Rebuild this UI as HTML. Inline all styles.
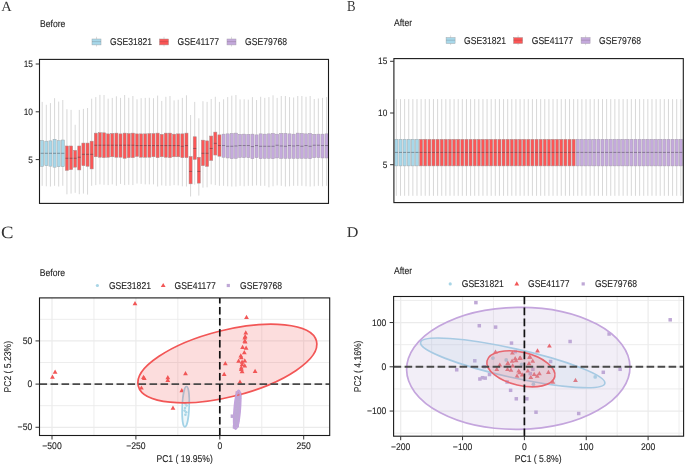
<!DOCTYPE html>
<html><head><meta charset="utf-8"><style>html,body{margin:0;padding:0;background:#fff;width:685px;height:465px;overflow:hidden}svg{display:block}text{text-rendering:geometricPrecision;stroke:#1E1E1E;stroke-width:0.12px}text.s{stroke:none}</style></head>
<body>
<svg width="685" height="465" viewBox="0 0 685 465" font-family="Liberation Sans, sans-serif">
<rect width="685" height="465" fill="#fff"/>
<g style="will-change:opacity;opacity:0.999">
<line x1="42.20" y1="101.90" x2="42.20" y2="185.80" stroke="#D4D4D4" stroke-width="0.9"/>
<line x1="46.32" y1="104.80" x2="46.32" y2="186.30" stroke="#D4D4D4" stroke-width="0.9"/>
<line x1="50.44" y1="103.10" x2="50.44" y2="186.50" stroke="#D4D4D4" stroke-width="0.9"/>
<line x1="54.57" y1="98.20" x2="54.57" y2="185.80" stroke="#D4D4D4" stroke-width="0.9"/>
<line x1="58.69" y1="101.60" x2="58.69" y2="186.50" stroke="#D4D4D4" stroke-width="0.9"/>
<line x1="62.81" y1="100.00" x2="62.81" y2="185.80" stroke="#D4D4D4" stroke-width="0.9"/>
<line x1="66.93" y1="109.20" x2="66.93" y2="194.30" stroke="#D4D4D4" stroke-width="0.9"/>
<line x1="71.05" y1="109.90" x2="71.05" y2="193.60" stroke="#D4D4D4" stroke-width="0.9"/>
<line x1="75.18" y1="124.80" x2="75.18" y2="192.80" stroke="#D4D4D4" stroke-width="0.9"/>
<line x1="79.30" y1="109.90" x2="79.30" y2="194.20" stroke="#D4D4D4" stroke-width="0.9"/>
<line x1="83.42" y1="108.90" x2="83.42" y2="193.60" stroke="#D4D4D4" stroke-width="0.9"/>
<line x1="87.54" y1="108.00" x2="87.54" y2="194.60" stroke="#D4D4D4" stroke-width="0.9"/>
<line x1="91.66" y1="98.70" x2="91.66" y2="185.80" stroke="#D4D4D4" stroke-width="0.9"/>
<line x1="95.79" y1="97.10" x2="95.79" y2="185.10" stroke="#D4D4D4" stroke-width="0.9"/>
<line x1="99.91" y1="94.90" x2="99.91" y2="184.40" stroke="#D4D4D4" stroke-width="0.9"/>
<line x1="104.03" y1="95.00" x2="104.03" y2="184.80" stroke="#D4D4D4" stroke-width="0.9"/>
<line x1="108.15" y1="98.70" x2="108.15" y2="185.10" stroke="#D4D4D4" stroke-width="0.9"/>
<line x1="112.27" y1="97.90" x2="112.27" y2="184.40" stroke="#D4D4D4" stroke-width="0.9"/>
<line x1="116.40" y1="96.30" x2="116.40" y2="185.80" stroke="#D4D4D4" stroke-width="0.9"/>
<line x1="120.52" y1="97.90" x2="120.52" y2="183.90" stroke="#D4D4D4" stroke-width="0.9"/>
<line x1="124.64" y1="95.00" x2="124.64" y2="185.10" stroke="#D4D4D4" stroke-width="0.9"/>
<line x1="128.76" y1="97.80" x2="128.76" y2="184.80" stroke="#D4D4D4" stroke-width="0.9"/>
<line x1="132.88" y1="96.00" x2="132.88" y2="185.10" stroke="#D4D4D4" stroke-width="0.9"/>
<line x1="137.01" y1="99.30" x2="137.01" y2="183.60" stroke="#D4D4D4" stroke-width="0.9"/>
<line x1="141.13" y1="98.20" x2="141.13" y2="183.90" stroke="#D4D4D4" stroke-width="0.9"/>
<line x1="145.25" y1="97.90" x2="145.25" y2="184.40" stroke="#D4D4D4" stroke-width="0.9"/>
<line x1="149.37" y1="97.80" x2="149.37" y2="184.40" stroke="#D4D4D4" stroke-width="0.9"/>
<line x1="153.49" y1="98.20" x2="153.49" y2="184.40" stroke="#D4D4D4" stroke-width="0.9"/>
<line x1="157.62" y1="95.60" x2="157.62" y2="186.50" stroke="#D4D4D4" stroke-width="0.9"/>
<line x1="161.74" y1="100.90" x2="161.74" y2="185.40" stroke="#D4D4D4" stroke-width="0.9"/>
<line x1="165.86" y1="96.80" x2="165.86" y2="185.80" stroke="#D4D4D4" stroke-width="0.9"/>
<line x1="169.98" y1="96.00" x2="169.98" y2="185.80" stroke="#D4D4D4" stroke-width="0.9"/>
<line x1="174.10" y1="100.40" x2="174.10" y2="185.10" stroke="#D4D4D4" stroke-width="0.9"/>
<line x1="178.23" y1="99.70" x2="178.23" y2="185.40" stroke="#D4D4D4" stroke-width="0.9"/>
<line x1="182.35" y1="97.90" x2="182.35" y2="186.30" stroke="#D4D4D4" stroke-width="0.9"/>
<line x1="186.47" y1="95.30" x2="186.47" y2="186.50" stroke="#D4D4D4" stroke-width="0.9"/>
<line x1="190.59" y1="115.00" x2="190.59" y2="196.50" stroke="#D4D4D4" stroke-width="0.9"/>
<line x1="194.71" y1="101.90" x2="194.71" y2="184.60" stroke="#D4D4D4" stroke-width="0.9"/>
<line x1="198.84" y1="118.30" x2="198.84" y2="195.60" stroke="#D4D4D4" stroke-width="0.9"/>
<line x1="202.96" y1="101.20" x2="202.96" y2="187.70" stroke="#D4D4D4" stroke-width="0.9"/>
<line x1="207.08" y1="101.90" x2="207.08" y2="187.30" stroke="#D4D4D4" stroke-width="0.9"/>
<line x1="211.20" y1="99.00" x2="211.20" y2="184.40" stroke="#D4D4D4" stroke-width="0.9"/>
<line x1="215.32" y1="96.80" x2="215.32" y2="185.10" stroke="#D4D4D4" stroke-width="0.9"/>
<line x1="219.45" y1="101.90" x2="219.45" y2="185.80" stroke="#D4D4D4" stroke-width="0.9"/>
<line x1="223.57" y1="99.30" x2="223.57" y2="185.80" stroke="#D4D4D4" stroke-width="0.9"/>
<line x1="227.69" y1="97.10" x2="227.69" y2="186.30" stroke="#D4D4D4" stroke-width="0.9"/>
<line x1="231.81" y1="95.70" x2="231.81" y2="186.50" stroke="#D4D4D4" stroke-width="0.9"/>
<line x1="235.93" y1="95.00" x2="235.93" y2="186.55" stroke="#D4D4D4" stroke-width="0.9"/>
<line x1="240.06" y1="99.40" x2="240.06" y2="185.82" stroke="#D4D4D4" stroke-width="0.9"/>
<line x1="244.18" y1="99.30" x2="244.18" y2="186.26" stroke="#D4D4D4" stroke-width="0.9"/>
<line x1="248.30" y1="99.70" x2="248.30" y2="185.82" stroke="#D4D4D4" stroke-width="0.9"/>
<line x1="252.42" y1="97.10" x2="252.42" y2="185.82" stroke="#D4D4D4" stroke-width="0.9"/>
<line x1="256.54" y1="100.00" x2="256.54" y2="185.38" stroke="#D4D4D4" stroke-width="0.9"/>
<line x1="260.67" y1="96.80" x2="260.67" y2="185.82" stroke="#D4D4D4" stroke-width="0.9"/>
<line x1="264.79" y1="97.90" x2="264.79" y2="185.82" stroke="#D4D4D4" stroke-width="0.9"/>
<line x1="268.91" y1="97.10" x2="268.91" y2="187.28" stroke="#D4D4D4" stroke-width="0.9"/>
<line x1="273.03" y1="95.30" x2="273.03" y2="186.26" stroke="#D4D4D4" stroke-width="0.9"/>
<line x1="277.15" y1="97.90" x2="277.15" y2="185.38" stroke="#D4D4D4" stroke-width="0.9"/>
<line x1="281.28" y1="96.00" x2="281.28" y2="185.82" stroke="#D4D4D4" stroke-width="0.9"/>
<line x1="285.40" y1="96.00" x2="285.40" y2="186.55" stroke="#D4D4D4" stroke-width="0.9"/>
<line x1="289.52" y1="97.10" x2="289.52" y2="186.26" stroke="#D4D4D4" stroke-width="0.9"/>
<line x1="293.64" y1="97.50" x2="293.64" y2="185.82" stroke="#D4D4D4" stroke-width="0.9"/>
<line x1="297.76" y1="96.00" x2="297.76" y2="185.82" stroke="#D4D4D4" stroke-width="0.9"/>
<line x1="301.89" y1="96.00" x2="301.89" y2="185.82" stroke="#D4D4D4" stroke-width="0.9"/>
<line x1="306.01" y1="96.80" x2="306.01" y2="186.26" stroke="#D4D4D4" stroke-width="0.9"/>
<line x1="310.13" y1="96.00" x2="310.13" y2="186.55" stroke="#D4D4D4" stroke-width="0.9"/>
<line x1="314.25" y1="99.00" x2="314.25" y2="186.26" stroke="#D4D4D4" stroke-width="0.9"/>
<line x1="318.37" y1="98.50" x2="318.37" y2="185.82" stroke="#D4D4D4" stroke-width="0.9"/>
<line x1="322.50" y1="97.90" x2="322.50" y2="186.26" stroke="#D4D4D4" stroke-width="0.9"/>
<line x1="326.62" y1="97.10" x2="326.62" y2="185.82" stroke="#D4D4D4" stroke-width="0.9"/>
<rect x="40.65" y="140.43" width="3.09" height="26.02" fill="#A7D8EA" stroke="#A0A8AC" stroke-width="0.5"/>
<line x1="40.65" y1="153.29" x2="43.75" y2="153.29" stroke="#2E2A33" stroke-width="0.9" stroke-opacity="0.45"/>
<rect x="44.78" y="141.16" width="3.09" height="24.56" fill="#A7D8EA" stroke="#A0A8AC" stroke-width="0.5"/>
<line x1="44.78" y1="153.29" x2="47.87" y2="153.29" stroke="#2E2A33" stroke-width="0.9" stroke-opacity="0.45"/>
<rect x="48.90" y="140.87" width="3.09" height="25.29" fill="#A7D8EA" stroke="#A0A8AC" stroke-width="0.5"/>
<line x1="48.90" y1="153.29" x2="51.99" y2="153.29" stroke="#2E2A33" stroke-width="0.9" stroke-opacity="0.45"/>
<rect x="53.02" y="139.26" width="3.09" height="27.92" fill="#A7D8EA" stroke="#A0A8AC" stroke-width="0.5"/>
<line x1="53.02" y1="153.29" x2="56.11" y2="153.29" stroke="#2E2A33" stroke-width="0.9" stroke-opacity="0.45"/>
<rect x="57.14" y="140.72" width="3.09" height="26.02" fill="#A7D8EA" stroke="#A0A8AC" stroke-width="0.5"/>
<line x1="57.14" y1="153.29" x2="60.23" y2="153.29" stroke="#2E2A33" stroke-width="0.9" stroke-opacity="0.45"/>
<rect x="61.26" y="139.99" width="3.09" height="26.75" fill="#A7D8EA" stroke="#A0A8AC" stroke-width="0.5"/>
<line x1="61.26" y1="153.29" x2="64.36" y2="153.29" stroke="#2E2A33" stroke-width="0.9" stroke-opacity="0.45"/>
<rect x="65.39" y="145.98" width="3.09" height="24.42" fill="#FB5656" stroke="#A89090" stroke-width="0.5"/>
<line x1="65.39" y1="158.26" x2="68.48" y2="158.26" stroke="#2E2A33" stroke-width="0.9" stroke-opacity="0.45"/>
<rect x="69.51" y="145.98" width="3.09" height="23.68" fill="#FB5656" stroke="#A89090" stroke-width="0.5"/>
<line x1="69.51" y1="158.26" x2="72.60" y2="158.26" stroke="#2E2A33" stroke-width="0.9" stroke-opacity="0.45"/>
<rect x="73.63" y="150.37" width="3.09" height="16.81" fill="#FB5656" stroke="#A89090" stroke-width="0.5"/>
<line x1="73.63" y1="158.26" x2="76.72" y2="158.26" stroke="#2E2A33" stroke-width="0.9" stroke-opacity="0.45"/>
<rect x="77.75" y="145.98" width="3.09" height="23.98" fill="#FB5656" stroke="#A89090" stroke-width="0.5"/>
<line x1="77.75" y1="157.24" x2="80.84" y2="157.24" stroke="#2E2A33" stroke-width="0.9" stroke-opacity="0.45"/>
<rect x="81.87" y="143.06" width="3.09" height="22.66" fill="#FB5656" stroke="#A89090" stroke-width="0.5"/>
<line x1="81.87" y1="154.32" x2="84.97" y2="154.32" stroke="#2E2A33" stroke-width="0.9" stroke-opacity="0.45"/>
<rect x="86.00" y="143.06" width="3.09" height="23.25" fill="#FB5656" stroke="#A89090" stroke-width="0.5"/>
<line x1="86.00" y1="154.32" x2="89.09" y2="154.32" stroke="#2E2A33" stroke-width="0.9" stroke-opacity="0.45"/>
<rect x="90.12" y="141.16" width="3.09" height="27.78" fill="#FB5656" stroke="#A89090" stroke-width="0.5"/>
<line x1="90.12" y1="154.32" x2="93.21" y2="154.32" stroke="#2E2A33" stroke-width="0.9" stroke-opacity="0.45"/>
<rect x="94.24" y="133.12" width="3.09" height="23.68" fill="#FB5656" stroke="#A89090" stroke-width="0.5"/>
<line x1="94.24" y1="145.25" x2="97.33" y2="145.25" stroke="#2E2A33" stroke-width="0.9" stroke-opacity="0.45"/>
<rect x="98.36" y="132.68" width="3.09" height="24.56" fill="#FB5656" stroke="#A89090" stroke-width="0.5"/>
<line x1="98.36" y1="145.25" x2="101.45" y2="145.25" stroke="#2E2A33" stroke-width="0.9" stroke-opacity="0.45"/>
<rect x="102.48" y="132.82" width="3.09" height="24.85" fill="#FB5656" stroke="#A89090" stroke-width="0.5"/>
<line x1="102.48" y1="145.25" x2="105.58" y2="145.25" stroke="#2E2A33" stroke-width="0.9" stroke-opacity="0.45"/>
<rect x="106.61" y="133.85" width="3.09" height="23.39" fill="#FB5656" stroke="#A89090" stroke-width="0.5"/>
<line x1="106.61" y1="145.25" x2="109.70" y2="145.25" stroke="#2E2A33" stroke-width="0.9" stroke-opacity="0.45"/>
<rect x="110.73" y="133.41" width="3.09" height="23.39" fill="#FB5656" stroke="#A89090" stroke-width="0.5"/>
<line x1="110.73" y1="145.25" x2="113.82" y2="145.25" stroke="#2E2A33" stroke-width="0.9" stroke-opacity="0.45"/>
<rect x="114.85" y="133.12" width="3.09" height="24.12" fill="#FB5656" stroke="#A89090" stroke-width="0.5"/>
<line x1="114.85" y1="145.25" x2="117.94" y2="145.25" stroke="#2E2A33" stroke-width="0.9" stroke-opacity="0.45"/>
<rect x="118.97" y="133.85" width="3.09" height="23.39" fill="#FB5656" stroke="#A89090" stroke-width="0.5"/>
<line x1="118.97" y1="145.25" x2="122.06" y2="145.25" stroke="#2E2A33" stroke-width="0.9" stroke-opacity="0.45"/>
<rect x="123.09" y="133.12" width="3.09" height="25.15" fill="#FB5656" stroke="#A89090" stroke-width="0.5"/>
<line x1="123.09" y1="145.25" x2="126.19" y2="145.25" stroke="#2E2A33" stroke-width="0.9" stroke-opacity="0.45"/>
<rect x="127.22" y="133.56" width="3.09" height="24.12" fill="#FB5656" stroke="#A89090" stroke-width="0.5"/>
<line x1="127.22" y1="145.25" x2="130.31" y2="145.25" stroke="#2E2A33" stroke-width="0.9" stroke-opacity="0.45"/>
<rect x="131.34" y="133.12" width="3.09" height="24.56" fill="#FB5656" stroke="#A89090" stroke-width="0.5"/>
<line x1="131.34" y1="145.25" x2="134.43" y2="145.25" stroke="#2E2A33" stroke-width="0.9" stroke-opacity="0.45"/>
<rect x="135.46" y="133.85" width="3.09" height="22.66" fill="#FB5656" stroke="#A89090" stroke-width="0.5"/>
<line x1="135.46" y1="145.54" x2="138.55" y2="145.54" stroke="#2E2A33" stroke-width="0.9" stroke-opacity="0.45"/>
<rect x="139.58" y="133.85" width="3.09" height="23.39" fill="#FB5656" stroke="#A89090" stroke-width="0.5"/>
<line x1="139.58" y1="145.54" x2="142.67" y2="145.54" stroke="#2E2A33" stroke-width="0.9" stroke-opacity="0.45"/>
<rect x="143.70" y="133.85" width="3.09" height="23.39" fill="#FB5656" stroke="#A89090" stroke-width="0.5"/>
<line x1="143.70" y1="145.54" x2="146.80" y2="145.54" stroke="#2E2A33" stroke-width="0.9" stroke-opacity="0.45"/>
<rect x="147.83" y="133.56" width="3.09" height="23.68" fill="#FB5656" stroke="#A89090" stroke-width="0.5"/>
<line x1="147.83" y1="145.54" x2="150.92" y2="145.54" stroke="#2E2A33" stroke-width="0.9" stroke-opacity="0.45"/>
<rect x="151.95" y="133.56" width="3.09" height="23.25" fill="#FB5656" stroke="#A89090" stroke-width="0.5"/>
<line x1="151.95" y1="145.54" x2="155.04" y2="145.54" stroke="#2E2A33" stroke-width="0.9" stroke-opacity="0.45"/>
<rect x="156.07" y="133.12" width="3.09" height="24.56" fill="#FB5656" stroke="#A89090" stroke-width="0.5"/>
<line x1="156.07" y1="145.54" x2="159.16" y2="145.54" stroke="#2E2A33" stroke-width="0.9" stroke-opacity="0.45"/>
<rect x="160.19" y="134.29" width="3.09" height="22.51" fill="#FB5656" stroke="#A89090" stroke-width="0.5"/>
<line x1="160.19" y1="145.54" x2="163.28" y2="145.54" stroke="#2E2A33" stroke-width="0.9" stroke-opacity="0.45"/>
<rect x="164.31" y="133.12" width="3.09" height="24.12" fill="#FB5656" stroke="#A89090" stroke-width="0.5"/>
<line x1="164.31" y1="145.54" x2="167.41" y2="145.54" stroke="#2E2A33" stroke-width="0.9" stroke-opacity="0.45"/>
<rect x="168.44" y="133.12" width="3.09" height="24.56" fill="#FB5656" stroke="#A89090" stroke-width="0.5"/>
<line x1="168.44" y1="145.54" x2="171.53" y2="145.54" stroke="#2E2A33" stroke-width="0.9" stroke-opacity="0.45"/>
<rect x="172.56" y="134.14" width="3.09" height="22.66" fill="#FB5656" stroke="#A89090" stroke-width="0.5"/>
<line x1="172.56" y1="145.54" x2="175.65" y2="145.54" stroke="#2E2A33" stroke-width="0.9" stroke-opacity="0.45"/>
<rect x="176.68" y="133.85" width="3.09" height="22.95" fill="#FB5656" stroke="#A89090" stroke-width="0.5"/>
<line x1="176.68" y1="145.54" x2="179.77" y2="145.54" stroke="#2E2A33" stroke-width="0.9" stroke-opacity="0.45"/>
<rect x="180.80" y="133.85" width="3.09" height="23.83" fill="#FB5656" stroke="#A89090" stroke-width="0.5"/>
<line x1="180.80" y1="146.27" x2="183.89" y2="146.27" stroke="#2E2A33" stroke-width="0.9" stroke-opacity="0.45"/>
<rect x="184.92" y="133.12" width="3.09" height="24.56" fill="#FB5656" stroke="#A89090" stroke-width="0.5"/>
<line x1="184.92" y1="145.54" x2="188.02" y2="145.54" stroke="#2E2A33" stroke-width="0.9" stroke-opacity="0.45"/>
<rect x="189.05" y="156.51" width="3.09" height="27.34" fill="#FB5656" stroke="#A89090" stroke-width="0.5"/>
<line x1="189.05" y1="171.42" x2="192.14" y2="171.42" stroke="#2E2A33" stroke-width="0.9" stroke-opacity="0.45"/>
<rect x="193.17" y="136.77" width="3.09" height="22.66" fill="#FB5656" stroke="#A89090" stroke-width="0.5"/>
<line x1="193.17" y1="148.47" x2="196.26" y2="148.47" stroke="#2E2A33" stroke-width="0.9" stroke-opacity="0.45"/>
<rect x="197.29" y="157.24" width="3.09" height="25.88" fill="#FB5656" stroke="#A89090" stroke-width="0.5"/>
<line x1="197.29" y1="171.42" x2="200.38" y2="171.42" stroke="#2E2A33" stroke-width="0.9" stroke-opacity="0.45"/>
<rect x="201.41" y="140.13" width="3.09" height="25.58" fill="#FB5656" stroke="#A89090" stroke-width="0.5"/>
<line x1="201.41" y1="153.29" x2="204.50" y2="153.29" stroke="#2E2A33" stroke-width="0.9" stroke-opacity="0.45"/>
<rect x="205.53" y="140.87" width="3.09" height="25.58" fill="#FB5656" stroke="#A89090" stroke-width="0.5"/>
<line x1="205.53" y1="153.29" x2="208.63" y2="153.29" stroke="#2E2A33" stroke-width="0.9" stroke-opacity="0.45"/>
<rect x="209.66" y="136.04" width="3.09" height="24.42" fill="#FB5656" stroke="#A89090" stroke-width="0.5"/>
<line x1="209.66" y1="148.47" x2="212.75" y2="148.47" stroke="#2E2A33" stroke-width="0.9" stroke-opacity="0.45"/>
<rect x="213.78" y="132.09" width="3.09" height="22.95" fill="#FB5656" stroke="#A89090" stroke-width="0.5"/>
<line x1="213.78" y1="143.35" x2="216.87" y2="143.35" stroke="#2E2A33" stroke-width="0.9" stroke-opacity="0.45"/>
<rect x="217.90" y="134.87" width="3.09" height="21.35" fill="#FB5656" stroke="#A89090" stroke-width="0.5"/>
<line x1="217.90" y1="145.54" x2="220.99" y2="145.54" stroke="#2E2A33" stroke-width="0.9" stroke-opacity="0.45"/>
<rect x="222.02" y="134.14" width="3.09" height="23.10" fill="#C4A9DC" stroke="#A89EAF" stroke-width="0.5"/>
<line x1="222.02" y1="145.54" x2="225.11" y2="145.54" stroke="#2E2A33" stroke-width="0.9" stroke-opacity="0.45"/>
<rect x="226.14" y="133.85" width="3.09" height="24.12" fill="#C4A9DC" stroke="#A89EAF" stroke-width="0.5"/>
<line x1="226.14" y1="146.27" x2="229.24" y2="146.27" stroke="#2E2A33" stroke-width="0.9" stroke-opacity="0.45"/>
<rect x="230.27" y="133.41" width="3.09" height="25.29" fill="#C4A9DC" stroke="#A89EAF" stroke-width="0.5"/>
<line x1="230.27" y1="146.27" x2="233.36" y2="146.27" stroke="#2E2A33" stroke-width="0.9" stroke-opacity="0.45"/>
<rect x="234.39" y="133.12" width="3.09" height="25.29" fill="#C4A9DC" stroke="#A89EAF" stroke-width="0.5"/>
<line x1="234.39" y1="145.98" x2="237.48" y2="145.98" stroke="#2E2A33" stroke-width="0.9" stroke-opacity="0.45"/>
<rect x="238.51" y="134.29" width="3.09" height="23.25" fill="#C4A9DC" stroke="#A89EAF" stroke-width="0.5"/>
<line x1="238.51" y1="145.54" x2="241.60" y2="145.54" stroke="#2E2A33" stroke-width="0.9" stroke-opacity="0.45"/>
<rect x="242.63" y="134.14" width="3.09" height="23.54" fill="#C4A9DC" stroke="#A89EAF" stroke-width="0.5"/>
<line x1="242.63" y1="145.54" x2="245.72" y2="145.54" stroke="#2E2A33" stroke-width="0.9" stroke-opacity="0.45"/>
<rect x="246.75" y="134.29" width="3.09" height="23.39" fill="#C4A9DC" stroke="#A89EAF" stroke-width="0.5"/>
<line x1="246.75" y1="145.54" x2="249.85" y2="145.54" stroke="#2E2A33" stroke-width="0.9" stroke-opacity="0.45"/>
<rect x="250.88" y="134.14" width="3.09" height="24.56" fill="#C4A9DC" stroke="#A89EAF" stroke-width="0.5"/>
<line x1="250.88" y1="146.57" x2="253.97" y2="146.57" stroke="#2E2A33" stroke-width="0.9" stroke-opacity="0.45"/>
<rect x="255.00" y="134.87" width="3.09" height="22.81" fill="#C4A9DC" stroke="#A89EAF" stroke-width="0.5"/>
<line x1="255.00" y1="145.54" x2="258.09" y2="145.54" stroke="#2E2A33" stroke-width="0.9" stroke-opacity="0.45"/>
<rect x="259.12" y="133.85" width="3.09" height="24.85" fill="#C4A9DC" stroke="#A89EAF" stroke-width="0.5"/>
<line x1="259.12" y1="146.27" x2="262.21" y2="146.27" stroke="#2E2A33" stroke-width="0.9" stroke-opacity="0.45"/>
<rect x="263.24" y="134.14" width="3.09" height="24.27" fill="#C4A9DC" stroke="#A89EAF" stroke-width="0.5"/>
<line x1="263.24" y1="146.27" x2="266.33" y2="146.27" stroke="#2E2A33" stroke-width="0.9" stroke-opacity="0.45"/>
<rect x="267.36" y="133.85" width="3.09" height="24.56" fill="#C4A9DC" stroke="#A89EAF" stroke-width="0.5"/>
<line x1="267.36" y1="146.27" x2="270.46" y2="146.27" stroke="#2E2A33" stroke-width="0.9" stroke-opacity="0.45"/>
<rect x="271.49" y="133.41" width="3.09" height="25.29" fill="#C4A9DC" stroke="#A89EAF" stroke-width="0.5"/>
<line x1="271.49" y1="146.27" x2="274.58" y2="146.27" stroke="#2E2A33" stroke-width="0.9" stroke-opacity="0.45"/>
<rect x="275.61" y="134.14" width="3.09" height="23.83" fill="#C4A9DC" stroke="#A89EAF" stroke-width="0.5"/>
<line x1="275.61" y1="145.25" x2="278.70" y2="145.25" stroke="#2E2A33" stroke-width="0.9" stroke-opacity="0.45"/>
<rect x="279.73" y="133.41" width="3.09" height="25.00" fill="#C4A9DC" stroke="#A89EAF" stroke-width="0.5"/>
<line x1="279.73" y1="145.98" x2="282.82" y2="145.98" stroke="#2E2A33" stroke-width="0.9" stroke-opacity="0.45"/>
<rect x="283.85" y="133.41" width="3.09" height="25.00" fill="#C4A9DC" stroke="#A89EAF" stroke-width="0.5"/>
<line x1="283.85" y1="146.27" x2="286.94" y2="146.27" stroke="#2E2A33" stroke-width="0.9" stroke-opacity="0.45"/>
<rect x="287.97" y="133.85" width="3.09" height="24.56" fill="#C4A9DC" stroke="#A89EAF" stroke-width="0.5"/>
<line x1="287.97" y1="145.54" x2="291.07" y2="145.54" stroke="#2E2A33" stroke-width="0.9" stroke-opacity="0.45"/>
<rect x="292.10" y="134.14" width="3.09" height="24.27" fill="#C4A9DC" stroke="#A89EAF" stroke-width="0.5"/>
<line x1="292.10" y1="145.98" x2="295.19" y2="145.98" stroke="#2E2A33" stroke-width="0.9" stroke-opacity="0.45"/>
<rect x="296.22" y="133.12" width="3.09" height="25.29" fill="#C4A9DC" stroke="#A89EAF" stroke-width="0.5"/>
<line x1="296.22" y1="145.54" x2="299.31" y2="145.54" stroke="#2E2A33" stroke-width="0.9" stroke-opacity="0.45"/>
<rect x="300.34" y="133.41" width="3.09" height="25.00" fill="#C4A9DC" stroke="#A89EAF" stroke-width="0.5"/>
<line x1="300.34" y1="146.27" x2="303.43" y2="146.27" stroke="#2E2A33" stroke-width="0.9" stroke-opacity="0.45"/>
<rect x="304.46" y="133.85" width="3.09" height="24.56" fill="#C4A9DC" stroke="#A89EAF" stroke-width="0.5"/>
<line x1="304.46" y1="145.54" x2="307.55" y2="145.54" stroke="#2E2A33" stroke-width="0.9" stroke-opacity="0.45"/>
<rect x="308.58" y="133.41" width="3.09" height="25.29" fill="#C4A9DC" stroke="#A89EAF" stroke-width="0.5"/>
<line x1="308.58" y1="146.27" x2="311.68" y2="146.27" stroke="#2E2A33" stroke-width="0.9" stroke-opacity="0.45"/>
<rect x="312.71" y="134.29" width="3.09" height="23.39" fill="#C4A9DC" stroke="#A89EAF" stroke-width="0.5"/>
<line x1="312.71" y1="145.25" x2="315.80" y2="145.25" stroke="#2E2A33" stroke-width="0.9" stroke-opacity="0.45"/>
<rect x="316.83" y="134.14" width="3.09" height="23.54" fill="#C4A9DC" stroke="#A89EAF" stroke-width="0.5"/>
<line x1="316.83" y1="145.25" x2="319.92" y2="145.25" stroke="#2E2A33" stroke-width="0.9" stroke-opacity="0.45"/>
<rect x="320.95" y="134.14" width="3.09" height="23.83" fill="#C4A9DC" stroke="#A89EAF" stroke-width="0.5"/>
<line x1="320.95" y1="145.54" x2="324.04" y2="145.54" stroke="#2E2A33" stroke-width="0.9" stroke-opacity="0.45"/>
<rect x="325.07" y="133.85" width="3.09" height="24.12" fill="#C4A9DC" stroke="#A89EAF" stroke-width="0.5"/>
<line x1="325.07" y1="145.54" x2="328.16" y2="145.54" stroke="#2E2A33" stroke-width="0.9" stroke-opacity="0.45"/>
<rect x="39.50" y="59.40" width="289.00" height="144.00" fill="none" stroke="#1A1A1A" stroke-width="1.1"/>
<line x1="35.70" y1="64.00" x2="39.50" y2="64.00" stroke="#333" stroke-width="1.0"/>
<text transform="translate(32.90 66.95) scale(0.9 1)" font-size="9.22" text-anchor="end" fill="#1E1E1E">15</text>
<line x1="35.70" y1="111.80" x2="39.50" y2="111.80" stroke="#333" stroke-width="1.0"/>
<text transform="translate(32.90 114.75) scale(0.9 1)" font-size="9.22" text-anchor="end" fill="#1E1E1E">10</text>
<line x1="35.70" y1="159.60" x2="39.50" y2="159.60" stroke="#333" stroke-width="1.0"/>
<text transform="translate(32.90 162.55) scale(0.9 1)" font-size="9.22" text-anchor="end" fill="#1E1E1E">5</text>
<line x1="396.37" y1="99.10" x2="396.37" y2="195.80" stroke="#D4D4D4" stroke-width="0.9"/>
<line x1="400.50" y1="99.10" x2="400.50" y2="195.80" stroke="#D4D4D4" stroke-width="0.9"/>
<line x1="404.62" y1="99.10" x2="404.62" y2="195.80" stroke="#D4D4D4" stroke-width="0.9"/>
<line x1="408.74" y1="99.10" x2="408.74" y2="195.80" stroke="#D4D4D4" stroke-width="0.9"/>
<line x1="412.86" y1="99.10" x2="412.86" y2="195.80" stroke="#D4D4D4" stroke-width="0.9"/>
<line x1="416.99" y1="99.10" x2="416.99" y2="195.80" stroke="#D4D4D4" stroke-width="0.9"/>
<line x1="421.11" y1="99.10" x2="421.11" y2="195.80" stroke="#D4D4D4" stroke-width="0.9"/>
<line x1="425.23" y1="99.10" x2="425.23" y2="195.80" stroke="#D4D4D4" stroke-width="0.9"/>
<line x1="429.35" y1="99.10" x2="429.35" y2="195.80" stroke="#D4D4D4" stroke-width="0.9"/>
<line x1="433.48" y1="99.10" x2="433.48" y2="195.80" stroke="#D4D4D4" stroke-width="0.9"/>
<line x1="437.60" y1="99.10" x2="437.60" y2="195.80" stroke="#D4D4D4" stroke-width="0.9"/>
<line x1="441.72" y1="99.10" x2="441.72" y2="195.80" stroke="#D4D4D4" stroke-width="0.9"/>
<line x1="445.84" y1="99.10" x2="445.84" y2="195.80" stroke="#D4D4D4" stroke-width="0.9"/>
<line x1="449.97" y1="99.10" x2="449.97" y2="195.80" stroke="#D4D4D4" stroke-width="0.9"/>
<line x1="454.09" y1="99.10" x2="454.09" y2="195.80" stroke="#D4D4D4" stroke-width="0.9"/>
<line x1="458.21" y1="99.10" x2="458.21" y2="195.80" stroke="#D4D4D4" stroke-width="0.9"/>
<line x1="462.33" y1="99.10" x2="462.33" y2="195.80" stroke="#D4D4D4" stroke-width="0.9"/>
<line x1="466.46" y1="99.10" x2="466.46" y2="195.80" stroke="#D4D4D4" stroke-width="0.9"/>
<line x1="470.58" y1="99.10" x2="470.58" y2="195.80" stroke="#D4D4D4" stroke-width="0.9"/>
<line x1="474.70" y1="99.10" x2="474.70" y2="195.80" stroke="#D4D4D4" stroke-width="0.9"/>
<line x1="478.82" y1="99.10" x2="478.82" y2="195.80" stroke="#D4D4D4" stroke-width="0.9"/>
<line x1="482.95" y1="99.10" x2="482.95" y2="195.80" stroke="#D4D4D4" stroke-width="0.9"/>
<line x1="487.07" y1="99.10" x2="487.07" y2="195.80" stroke="#D4D4D4" stroke-width="0.9"/>
<line x1="491.19" y1="99.10" x2="491.19" y2="195.80" stroke="#D4D4D4" stroke-width="0.9"/>
<line x1="495.31" y1="99.10" x2="495.31" y2="195.80" stroke="#D4D4D4" stroke-width="0.9"/>
<line x1="499.44" y1="99.10" x2="499.44" y2="195.80" stroke="#D4D4D4" stroke-width="0.9"/>
<line x1="503.56" y1="99.10" x2="503.56" y2="195.80" stroke="#D4D4D4" stroke-width="0.9"/>
<line x1="507.68" y1="99.10" x2="507.68" y2="195.80" stroke="#D4D4D4" stroke-width="0.9"/>
<line x1="511.80" y1="99.10" x2="511.80" y2="195.80" stroke="#D4D4D4" stroke-width="0.9"/>
<line x1="515.93" y1="99.10" x2="515.93" y2="195.80" stroke="#D4D4D4" stroke-width="0.9"/>
<line x1="520.05" y1="99.10" x2="520.05" y2="195.80" stroke="#D4D4D4" stroke-width="0.9"/>
<line x1="524.17" y1="99.10" x2="524.17" y2="195.80" stroke="#D4D4D4" stroke-width="0.9"/>
<line x1="528.29" y1="99.10" x2="528.29" y2="195.80" stroke="#D4D4D4" stroke-width="0.9"/>
<line x1="532.42" y1="99.10" x2="532.42" y2="195.80" stroke="#D4D4D4" stroke-width="0.9"/>
<line x1="536.54" y1="99.10" x2="536.54" y2="195.80" stroke="#D4D4D4" stroke-width="0.9"/>
<line x1="540.66" y1="99.10" x2="540.66" y2="195.80" stroke="#D4D4D4" stroke-width="0.9"/>
<line x1="544.78" y1="99.10" x2="544.78" y2="195.80" stroke="#D4D4D4" stroke-width="0.9"/>
<line x1="548.91" y1="99.10" x2="548.91" y2="195.80" stroke="#D4D4D4" stroke-width="0.9"/>
<line x1="553.03" y1="99.10" x2="553.03" y2="195.80" stroke="#D4D4D4" stroke-width="0.9"/>
<line x1="557.15" y1="99.10" x2="557.15" y2="195.80" stroke="#D4D4D4" stroke-width="0.9"/>
<line x1="561.27" y1="99.10" x2="561.27" y2="195.80" stroke="#D4D4D4" stroke-width="0.9"/>
<line x1="565.40" y1="99.10" x2="565.40" y2="195.80" stroke="#D4D4D4" stroke-width="0.9"/>
<line x1="569.52" y1="99.10" x2="569.52" y2="195.80" stroke="#D4D4D4" stroke-width="0.9"/>
<line x1="573.64" y1="99.10" x2="573.64" y2="195.80" stroke="#D4D4D4" stroke-width="0.9"/>
<line x1="577.76" y1="99.10" x2="577.76" y2="195.80" stroke="#D4D4D4" stroke-width="0.9"/>
<line x1="581.89" y1="99.10" x2="581.89" y2="195.80" stroke="#D4D4D4" stroke-width="0.9"/>
<line x1="586.01" y1="99.10" x2="586.01" y2="195.80" stroke="#D4D4D4" stroke-width="0.9"/>
<line x1="590.13" y1="99.10" x2="590.13" y2="195.80" stroke="#D4D4D4" stroke-width="0.9"/>
<line x1="594.25" y1="99.10" x2="594.25" y2="195.80" stroke="#D4D4D4" stroke-width="0.9"/>
<line x1="598.38" y1="99.10" x2="598.38" y2="195.80" stroke="#D4D4D4" stroke-width="0.9"/>
<line x1="602.50" y1="99.10" x2="602.50" y2="195.80" stroke="#D4D4D4" stroke-width="0.9"/>
<line x1="606.62" y1="99.10" x2="606.62" y2="195.80" stroke="#D4D4D4" stroke-width="0.9"/>
<line x1="610.74" y1="99.10" x2="610.74" y2="195.80" stroke="#D4D4D4" stroke-width="0.9"/>
<line x1="614.87" y1="99.10" x2="614.87" y2="195.80" stroke="#D4D4D4" stroke-width="0.9"/>
<line x1="618.99" y1="99.10" x2="618.99" y2="195.80" stroke="#D4D4D4" stroke-width="0.9"/>
<line x1="623.11" y1="99.10" x2="623.11" y2="195.80" stroke="#D4D4D4" stroke-width="0.9"/>
<line x1="627.23" y1="99.10" x2="627.23" y2="195.80" stroke="#D4D4D4" stroke-width="0.9"/>
<line x1="631.36" y1="99.10" x2="631.36" y2="195.80" stroke="#D4D4D4" stroke-width="0.9"/>
<line x1="635.48" y1="99.10" x2="635.48" y2="195.80" stroke="#D4D4D4" stroke-width="0.9"/>
<line x1="639.60" y1="99.10" x2="639.60" y2="195.80" stroke="#D4D4D4" stroke-width="0.9"/>
<line x1="643.72" y1="99.10" x2="643.72" y2="195.80" stroke="#D4D4D4" stroke-width="0.9"/>
<line x1="647.85" y1="99.10" x2="647.85" y2="195.80" stroke="#D4D4D4" stroke-width="0.9"/>
<line x1="651.97" y1="99.10" x2="651.97" y2="195.80" stroke="#D4D4D4" stroke-width="0.9"/>
<line x1="656.09" y1="99.10" x2="656.09" y2="195.80" stroke="#D4D4D4" stroke-width="0.9"/>
<line x1="660.21" y1="99.10" x2="660.21" y2="195.80" stroke="#D4D4D4" stroke-width="0.9"/>
<line x1="664.34" y1="99.10" x2="664.34" y2="195.80" stroke="#D4D4D4" stroke-width="0.9"/>
<line x1="668.46" y1="99.10" x2="668.46" y2="195.80" stroke="#D4D4D4" stroke-width="0.9"/>
<line x1="672.58" y1="99.10" x2="672.58" y2="195.80" stroke="#D4D4D4" stroke-width="0.9"/>
<line x1="676.70" y1="99.10" x2="676.70" y2="195.80" stroke="#D4D4D4" stroke-width="0.9"/>
<line x1="680.83" y1="99.10" x2="680.83" y2="195.80" stroke="#D4D4D4" stroke-width="0.9"/>
<rect x="394.83" y="139.30" width="3.09" height="26.60" fill="#A7D8EA" stroke="#A0A8AC" stroke-width="0.5"/>
<line x1="394.83" y1="152.40" x2="397.92" y2="152.40" stroke="#2E2A33" stroke-width="0.9" stroke-opacity="0.45"/>
<rect x="398.95" y="139.30" width="3.09" height="26.60" fill="#A7D8EA" stroke="#A0A8AC" stroke-width="0.5"/>
<line x1="398.95" y1="152.40" x2="402.04" y2="152.40" stroke="#2E2A33" stroke-width="0.9" stroke-opacity="0.45"/>
<rect x="403.07" y="139.30" width="3.09" height="26.60" fill="#A7D8EA" stroke="#A0A8AC" stroke-width="0.5"/>
<line x1="403.07" y1="152.40" x2="406.16" y2="152.40" stroke="#2E2A33" stroke-width="0.9" stroke-opacity="0.45"/>
<rect x="407.20" y="139.30" width="3.09" height="26.60" fill="#A7D8EA" stroke="#A0A8AC" stroke-width="0.5"/>
<line x1="407.20" y1="152.40" x2="410.29" y2="152.40" stroke="#2E2A33" stroke-width="0.9" stroke-opacity="0.45"/>
<rect x="411.32" y="139.30" width="3.09" height="26.60" fill="#A7D8EA" stroke="#A0A8AC" stroke-width="0.5"/>
<line x1="411.32" y1="152.40" x2="414.41" y2="152.40" stroke="#2E2A33" stroke-width="0.9" stroke-opacity="0.45"/>
<rect x="415.44" y="139.30" width="3.09" height="26.60" fill="#A7D8EA" stroke="#A0A8AC" stroke-width="0.5"/>
<line x1="415.44" y1="152.40" x2="418.53" y2="152.40" stroke="#2E2A33" stroke-width="0.9" stroke-opacity="0.45"/>
<rect x="419.56" y="139.30" width="3.09" height="26.60" fill="#FB5656" stroke="#A89090" stroke-width="0.5"/>
<line x1="419.56" y1="152.40" x2="422.65" y2="152.40" stroke="#2E2A33" stroke-width="0.9" stroke-opacity="0.45"/>
<rect x="423.69" y="139.30" width="3.09" height="26.60" fill="#FB5656" stroke="#A89090" stroke-width="0.5"/>
<line x1="423.69" y1="152.40" x2="426.78" y2="152.40" stroke="#2E2A33" stroke-width="0.9" stroke-opacity="0.45"/>
<rect x="427.81" y="139.30" width="3.09" height="26.60" fill="#FB5656" stroke="#A89090" stroke-width="0.5"/>
<line x1="427.81" y1="152.40" x2="430.90" y2="152.40" stroke="#2E2A33" stroke-width="0.9" stroke-opacity="0.45"/>
<rect x="431.93" y="139.30" width="3.09" height="26.60" fill="#FB5656" stroke="#A89090" stroke-width="0.5"/>
<line x1="431.93" y1="152.40" x2="435.02" y2="152.40" stroke="#2E2A33" stroke-width="0.9" stroke-opacity="0.45"/>
<rect x="436.05" y="139.30" width="3.09" height="26.60" fill="#FB5656" stroke="#A89090" stroke-width="0.5"/>
<line x1="436.05" y1="152.40" x2="439.14" y2="152.40" stroke="#2E2A33" stroke-width="0.9" stroke-opacity="0.45"/>
<rect x="440.18" y="139.30" width="3.09" height="26.60" fill="#FB5656" stroke="#A89090" stroke-width="0.5"/>
<line x1="440.18" y1="152.40" x2="443.27" y2="152.40" stroke="#2E2A33" stroke-width="0.9" stroke-opacity="0.45"/>
<rect x="444.30" y="139.30" width="3.09" height="26.60" fill="#FB5656" stroke="#A89090" stroke-width="0.5"/>
<line x1="444.30" y1="152.40" x2="447.39" y2="152.40" stroke="#2E2A33" stroke-width="0.9" stroke-opacity="0.45"/>
<rect x="448.42" y="139.30" width="3.09" height="26.60" fill="#FB5656" stroke="#A89090" stroke-width="0.5"/>
<line x1="448.42" y1="152.40" x2="451.51" y2="152.40" stroke="#2E2A33" stroke-width="0.9" stroke-opacity="0.45"/>
<rect x="452.54" y="139.30" width="3.09" height="26.60" fill="#FB5656" stroke="#A89090" stroke-width="0.5"/>
<line x1="452.54" y1="152.40" x2="455.63" y2="152.40" stroke="#2E2A33" stroke-width="0.9" stroke-opacity="0.45"/>
<rect x="456.67" y="139.30" width="3.09" height="26.60" fill="#FB5656" stroke="#A89090" stroke-width="0.5"/>
<line x1="456.67" y1="152.40" x2="459.76" y2="152.40" stroke="#2E2A33" stroke-width="0.9" stroke-opacity="0.45"/>
<rect x="460.79" y="139.30" width="3.09" height="26.60" fill="#FB5656" stroke="#A89090" stroke-width="0.5"/>
<line x1="460.79" y1="152.40" x2="463.88" y2="152.40" stroke="#2E2A33" stroke-width="0.9" stroke-opacity="0.45"/>
<rect x="464.91" y="139.30" width="3.09" height="26.60" fill="#FB5656" stroke="#A89090" stroke-width="0.5"/>
<line x1="464.91" y1="152.40" x2="468.00" y2="152.40" stroke="#2E2A33" stroke-width="0.9" stroke-opacity="0.45"/>
<rect x="469.03" y="139.30" width="3.09" height="26.60" fill="#FB5656" stroke="#A89090" stroke-width="0.5"/>
<line x1="469.03" y1="152.40" x2="472.12" y2="152.40" stroke="#2E2A33" stroke-width="0.9" stroke-opacity="0.45"/>
<rect x="473.16" y="139.30" width="3.09" height="26.60" fill="#FB5656" stroke="#A89090" stroke-width="0.5"/>
<line x1="473.16" y1="152.40" x2="476.25" y2="152.40" stroke="#2E2A33" stroke-width="0.9" stroke-opacity="0.45"/>
<rect x="477.28" y="139.30" width="3.09" height="26.60" fill="#FB5656" stroke="#A89090" stroke-width="0.5"/>
<line x1="477.28" y1="152.40" x2="480.37" y2="152.40" stroke="#2E2A33" stroke-width="0.9" stroke-opacity="0.45"/>
<rect x="481.40" y="139.30" width="3.09" height="26.60" fill="#FB5656" stroke="#A89090" stroke-width="0.5"/>
<line x1="481.40" y1="152.40" x2="484.49" y2="152.40" stroke="#2E2A33" stroke-width="0.9" stroke-opacity="0.45"/>
<rect x="485.52" y="139.30" width="3.09" height="26.60" fill="#FB5656" stroke="#A89090" stroke-width="0.5"/>
<line x1="485.52" y1="152.40" x2="488.61" y2="152.40" stroke="#2E2A33" stroke-width="0.9" stroke-opacity="0.45"/>
<rect x="489.65" y="139.30" width="3.09" height="26.60" fill="#FB5656" stroke="#A89090" stroke-width="0.5"/>
<line x1="489.65" y1="152.40" x2="492.74" y2="152.40" stroke="#2E2A33" stroke-width="0.9" stroke-opacity="0.45"/>
<rect x="493.77" y="139.30" width="3.09" height="26.60" fill="#FB5656" stroke="#A89090" stroke-width="0.5"/>
<line x1="493.77" y1="152.40" x2="496.86" y2="152.40" stroke="#2E2A33" stroke-width="0.9" stroke-opacity="0.45"/>
<rect x="497.89" y="139.30" width="3.09" height="26.60" fill="#FB5656" stroke="#A89090" stroke-width="0.5"/>
<line x1="497.89" y1="152.40" x2="500.98" y2="152.40" stroke="#2E2A33" stroke-width="0.9" stroke-opacity="0.45"/>
<rect x="502.01" y="139.30" width="3.09" height="26.60" fill="#FB5656" stroke="#A89090" stroke-width="0.5"/>
<line x1="502.01" y1="152.40" x2="505.10" y2="152.40" stroke="#2E2A33" stroke-width="0.9" stroke-opacity="0.45"/>
<rect x="506.14" y="139.30" width="3.09" height="26.60" fill="#FB5656" stroke="#A89090" stroke-width="0.5"/>
<line x1="506.14" y1="152.40" x2="509.23" y2="152.40" stroke="#2E2A33" stroke-width="0.9" stroke-opacity="0.45"/>
<rect x="510.26" y="139.30" width="3.09" height="26.60" fill="#FB5656" stroke="#A89090" stroke-width="0.5"/>
<line x1="510.26" y1="152.40" x2="513.35" y2="152.40" stroke="#2E2A33" stroke-width="0.9" stroke-opacity="0.45"/>
<rect x="514.38" y="139.30" width="3.09" height="26.60" fill="#FB5656" stroke="#A89090" stroke-width="0.5"/>
<line x1="514.38" y1="152.40" x2="517.47" y2="152.40" stroke="#2E2A33" stroke-width="0.9" stroke-opacity="0.45"/>
<rect x="518.50" y="139.30" width="3.09" height="26.60" fill="#FB5656" stroke="#A89090" stroke-width="0.5"/>
<line x1="518.50" y1="152.40" x2="521.59" y2="152.40" stroke="#2E2A33" stroke-width="0.9" stroke-opacity="0.45"/>
<rect x="522.63" y="139.30" width="3.09" height="26.60" fill="#FB5656" stroke="#A89090" stroke-width="0.5"/>
<line x1="522.63" y1="152.40" x2="525.72" y2="152.40" stroke="#2E2A33" stroke-width="0.9" stroke-opacity="0.45"/>
<rect x="526.75" y="139.30" width="3.09" height="26.60" fill="#FB5656" stroke="#A89090" stroke-width="0.5"/>
<line x1="526.75" y1="152.40" x2="529.84" y2="152.40" stroke="#2E2A33" stroke-width="0.9" stroke-opacity="0.45"/>
<rect x="530.87" y="139.30" width="3.09" height="26.60" fill="#FB5656" stroke="#A89090" stroke-width="0.5"/>
<line x1="530.87" y1="152.40" x2="533.96" y2="152.40" stroke="#2E2A33" stroke-width="0.9" stroke-opacity="0.45"/>
<rect x="534.99" y="139.30" width="3.09" height="26.60" fill="#FB5656" stroke="#A89090" stroke-width="0.5"/>
<line x1="534.99" y1="152.40" x2="538.08" y2="152.40" stroke="#2E2A33" stroke-width="0.9" stroke-opacity="0.45"/>
<rect x="539.12" y="139.30" width="3.09" height="26.60" fill="#FB5656" stroke="#A89090" stroke-width="0.5"/>
<line x1="539.12" y1="152.40" x2="542.21" y2="152.40" stroke="#2E2A33" stroke-width="0.9" stroke-opacity="0.45"/>
<rect x="543.24" y="139.30" width="3.09" height="26.60" fill="#FB5656" stroke="#A89090" stroke-width="0.5"/>
<line x1="543.24" y1="152.40" x2="546.33" y2="152.40" stroke="#2E2A33" stroke-width="0.9" stroke-opacity="0.45"/>
<rect x="547.36" y="139.30" width="3.09" height="26.60" fill="#FB5656" stroke="#A89090" stroke-width="0.5"/>
<line x1="547.36" y1="152.40" x2="550.45" y2="152.40" stroke="#2E2A33" stroke-width="0.9" stroke-opacity="0.45"/>
<rect x="551.48" y="139.30" width="3.09" height="26.60" fill="#FB5656" stroke="#A89090" stroke-width="0.5"/>
<line x1="551.48" y1="152.40" x2="554.57" y2="152.40" stroke="#2E2A33" stroke-width="0.9" stroke-opacity="0.45"/>
<rect x="555.61" y="139.30" width="3.09" height="26.60" fill="#FB5656" stroke="#A89090" stroke-width="0.5"/>
<line x1="555.61" y1="152.40" x2="558.70" y2="152.40" stroke="#2E2A33" stroke-width="0.9" stroke-opacity="0.45"/>
<rect x="559.73" y="139.30" width="3.09" height="26.60" fill="#FB5656" stroke="#A89090" stroke-width="0.5"/>
<line x1="559.73" y1="152.40" x2="562.82" y2="152.40" stroke="#2E2A33" stroke-width="0.9" stroke-opacity="0.45"/>
<rect x="563.85" y="139.30" width="3.09" height="26.60" fill="#FB5656" stroke="#A89090" stroke-width="0.5"/>
<line x1="563.85" y1="152.40" x2="566.94" y2="152.40" stroke="#2E2A33" stroke-width="0.9" stroke-opacity="0.45"/>
<rect x="567.97" y="139.30" width="3.09" height="26.60" fill="#FB5656" stroke="#A89090" stroke-width="0.5"/>
<line x1="567.97" y1="152.40" x2="571.06" y2="152.40" stroke="#2E2A33" stroke-width="0.9" stroke-opacity="0.45"/>
<rect x="572.10" y="139.30" width="3.09" height="26.60" fill="#FB5656" stroke="#A89090" stroke-width="0.5"/>
<line x1="572.10" y1="152.40" x2="575.19" y2="152.40" stroke="#2E2A33" stroke-width="0.9" stroke-opacity="0.45"/>
<rect x="576.22" y="139.30" width="3.09" height="26.60" fill="#C4A9DC" stroke="#A89EAF" stroke-width="0.5"/>
<line x1="576.22" y1="152.40" x2="579.31" y2="152.40" stroke="#2E2A33" stroke-width="0.9" stroke-opacity="0.45"/>
<rect x="580.34" y="139.30" width="3.09" height="26.60" fill="#C4A9DC" stroke="#A89EAF" stroke-width="0.5"/>
<line x1="580.34" y1="152.40" x2="583.43" y2="152.40" stroke="#2E2A33" stroke-width="0.9" stroke-opacity="0.45"/>
<rect x="584.46" y="139.30" width="3.09" height="26.60" fill="#C4A9DC" stroke="#A89EAF" stroke-width="0.5"/>
<line x1="584.46" y1="152.40" x2="587.55" y2="152.40" stroke="#2E2A33" stroke-width="0.9" stroke-opacity="0.45"/>
<rect x="588.59" y="139.30" width="3.09" height="26.60" fill="#C4A9DC" stroke="#A89EAF" stroke-width="0.5"/>
<line x1="588.59" y1="152.40" x2="591.68" y2="152.40" stroke="#2E2A33" stroke-width="0.9" stroke-opacity="0.45"/>
<rect x="592.71" y="139.30" width="3.09" height="26.60" fill="#C4A9DC" stroke="#A89EAF" stroke-width="0.5"/>
<line x1="592.71" y1="152.40" x2="595.80" y2="152.40" stroke="#2E2A33" stroke-width="0.9" stroke-opacity="0.45"/>
<rect x="596.83" y="139.30" width="3.09" height="26.60" fill="#C4A9DC" stroke="#A89EAF" stroke-width="0.5"/>
<line x1="596.83" y1="152.40" x2="599.92" y2="152.40" stroke="#2E2A33" stroke-width="0.9" stroke-opacity="0.45"/>
<rect x="600.95" y="139.30" width="3.09" height="26.60" fill="#C4A9DC" stroke="#A89EAF" stroke-width="0.5"/>
<line x1="600.95" y1="152.40" x2="604.04" y2="152.40" stroke="#2E2A33" stroke-width="0.9" stroke-opacity="0.45"/>
<rect x="605.08" y="139.30" width="3.09" height="26.60" fill="#C4A9DC" stroke="#A89EAF" stroke-width="0.5"/>
<line x1="605.08" y1="152.40" x2="608.17" y2="152.40" stroke="#2E2A33" stroke-width="0.9" stroke-opacity="0.45"/>
<rect x="609.20" y="139.30" width="3.09" height="26.60" fill="#C4A9DC" stroke="#A89EAF" stroke-width="0.5"/>
<line x1="609.20" y1="152.40" x2="612.29" y2="152.40" stroke="#2E2A33" stroke-width="0.9" stroke-opacity="0.45"/>
<rect x="613.32" y="139.30" width="3.09" height="26.60" fill="#C4A9DC" stroke="#A89EAF" stroke-width="0.5"/>
<line x1="613.32" y1="152.40" x2="616.41" y2="152.40" stroke="#2E2A33" stroke-width="0.9" stroke-opacity="0.45"/>
<rect x="617.44" y="139.30" width="3.09" height="26.60" fill="#C4A9DC" stroke="#A89EAF" stroke-width="0.5"/>
<line x1="617.44" y1="152.40" x2="620.53" y2="152.40" stroke="#2E2A33" stroke-width="0.9" stroke-opacity="0.45"/>
<rect x="621.57" y="139.30" width="3.09" height="26.60" fill="#C4A9DC" stroke="#A89EAF" stroke-width="0.5"/>
<line x1="621.57" y1="152.40" x2="624.66" y2="152.40" stroke="#2E2A33" stroke-width="0.9" stroke-opacity="0.45"/>
<rect x="625.69" y="139.30" width="3.09" height="26.60" fill="#C4A9DC" stroke="#A89EAF" stroke-width="0.5"/>
<line x1="625.69" y1="152.40" x2="628.78" y2="152.40" stroke="#2E2A33" stroke-width="0.9" stroke-opacity="0.45"/>
<rect x="629.81" y="139.30" width="3.09" height="26.60" fill="#C4A9DC" stroke="#A89EAF" stroke-width="0.5"/>
<line x1="629.81" y1="152.40" x2="632.90" y2="152.40" stroke="#2E2A33" stroke-width="0.9" stroke-opacity="0.45"/>
<rect x="633.93" y="139.30" width="3.09" height="26.60" fill="#C4A9DC" stroke="#A89EAF" stroke-width="0.5"/>
<line x1="633.93" y1="152.40" x2="637.02" y2="152.40" stroke="#2E2A33" stroke-width="0.9" stroke-opacity="0.45"/>
<rect x="638.06" y="139.30" width="3.09" height="26.60" fill="#C4A9DC" stroke="#A89EAF" stroke-width="0.5"/>
<line x1="638.06" y1="152.40" x2="641.15" y2="152.40" stroke="#2E2A33" stroke-width="0.9" stroke-opacity="0.45"/>
<rect x="642.18" y="139.30" width="3.09" height="26.60" fill="#C4A9DC" stroke="#A89EAF" stroke-width="0.5"/>
<line x1="642.18" y1="152.40" x2="645.27" y2="152.40" stroke="#2E2A33" stroke-width="0.9" stroke-opacity="0.45"/>
<rect x="646.30" y="139.30" width="3.09" height="26.60" fill="#C4A9DC" stroke="#A89EAF" stroke-width="0.5"/>
<line x1="646.30" y1="152.40" x2="649.39" y2="152.40" stroke="#2E2A33" stroke-width="0.9" stroke-opacity="0.45"/>
<rect x="650.42" y="139.30" width="3.09" height="26.60" fill="#C4A9DC" stroke="#A89EAF" stroke-width="0.5"/>
<line x1="650.42" y1="152.40" x2="653.51" y2="152.40" stroke="#2E2A33" stroke-width="0.9" stroke-opacity="0.45"/>
<rect x="654.55" y="139.30" width="3.09" height="26.60" fill="#C4A9DC" stroke="#A89EAF" stroke-width="0.5"/>
<line x1="654.55" y1="152.40" x2="657.64" y2="152.40" stroke="#2E2A33" stroke-width="0.9" stroke-opacity="0.45"/>
<rect x="658.67" y="139.30" width="3.09" height="26.60" fill="#C4A9DC" stroke="#A89EAF" stroke-width="0.5"/>
<line x1="658.67" y1="152.40" x2="661.76" y2="152.40" stroke="#2E2A33" stroke-width="0.9" stroke-opacity="0.45"/>
<rect x="662.79" y="139.30" width="3.09" height="26.60" fill="#C4A9DC" stroke="#A89EAF" stroke-width="0.5"/>
<line x1="662.79" y1="152.40" x2="665.88" y2="152.40" stroke="#2E2A33" stroke-width="0.9" stroke-opacity="0.45"/>
<rect x="666.91" y="139.30" width="3.09" height="26.60" fill="#C4A9DC" stroke="#A89EAF" stroke-width="0.5"/>
<line x1="666.91" y1="152.40" x2="670.00" y2="152.40" stroke="#2E2A33" stroke-width="0.9" stroke-opacity="0.45"/>
<rect x="671.04" y="139.30" width="3.09" height="26.60" fill="#C4A9DC" stroke="#A89EAF" stroke-width="0.5"/>
<line x1="671.04" y1="152.40" x2="674.13" y2="152.40" stroke="#2E2A33" stroke-width="0.9" stroke-opacity="0.45"/>
<rect x="675.16" y="139.30" width="3.09" height="26.60" fill="#C4A9DC" stroke="#A89EAF" stroke-width="0.5"/>
<line x1="675.16" y1="152.40" x2="678.25" y2="152.40" stroke="#2E2A33" stroke-width="0.9" stroke-opacity="0.45"/>
<rect x="679.28" y="139.30" width="3.09" height="26.60" fill="#C4A9DC" stroke="#A89EAF" stroke-width="0.5"/>
<line x1="679.28" y1="152.40" x2="682.37" y2="152.40" stroke="#2E2A33" stroke-width="0.9" stroke-opacity="0.45"/>
<rect x="393.90" y="58.60" width="289.40" height="144.00" fill="none" stroke="#1A1A1A" stroke-width="1.1"/>
<line x1="390.10" y1="61.30" x2="393.90" y2="61.30" stroke="#333" stroke-width="1.0"/>
<text transform="translate(387.30 64.25) scale(0.9 1)" font-size="9.22" text-anchor="end" fill="#1E1E1E">15</text>
<line x1="390.10" y1="113.00" x2="393.90" y2="113.00" stroke="#333" stroke-width="1.0"/>
<text transform="translate(387.30 115.95) scale(0.9 1)" font-size="9.22" text-anchor="end" fill="#1E1E1E">10</text>
<line x1="390.10" y1="164.70" x2="393.90" y2="164.70" stroke="#333" stroke-width="1.0"/>
<text transform="translate(387.30 167.65) scale(0.9 1)" font-size="9.22" text-anchor="end" fill="#1E1E1E">5</text>
<text transform="translate(1.35 11.05) scale(1.02 1)" font-family="Liberation Serif, serif" font-size="14.20" fill="#333" class="s">A</text>
<text transform="translate(347.00 11.40) scale(0.84 1)" font-family="Liberation Serif, serif" font-size="15.30" fill="#333" class="s">B</text>
<text transform="translate(1.03 237.70) scale(1.08 1)" font-family="Liberation Serif, serif" font-size="17.30" fill="#333" class="s">C</text>
<text transform="translate(346.73 236.80) scale(1.09 1)" font-family="Liberation Serif, serif" font-size="14.80" fill="#333" class="s">D</text>
<text transform="translate(40.00 27.00) scale(0.87 1)" font-size="9.89" fill="#1E1E1E">Before</text>
<text transform="translate(394.00 25.80) scale(0.87 1)" font-size="9.89" fill="#1E1E1E">After</text>
<text transform="translate(39.80 276.20) scale(0.87 1)" font-size="9.89" fill="#1E1E1E">Before</text>
<text transform="translate(393.90 274.30) scale(0.87 1)" font-size="9.89" fill="#1E1E1E">After</text>
<line x1="96.50" y1="36.80" x2="96.50" y2="46.50" stroke="#D4D4D4" stroke-width="0.8"/>
<rect x="92.00" y="39.00" width="9.0" height="5.9" fill="#A7D8EA" stroke="#A0A8AC" stroke-width="0.5"/>
<line x1="92.00" y1="41.60" x2="101.00" y2="41.60" stroke="#3A2A2A" stroke-width="0.7" stroke-opacity="0.25"/>
<text transform="translate(110.00 45.20) scale(0.87 1)" font-size="9.89" fill="#1E1E1E">GSE31821</text>
<line x1="164.00" y1="36.80" x2="164.00" y2="46.50" stroke="#D4D4D4" stroke-width="0.8"/>
<rect x="159.50" y="39.00" width="9.0" height="5.9" fill="#FB5656" stroke="#A89090" stroke-width="0.5"/>
<line x1="159.50" y1="41.60" x2="168.50" y2="41.60" stroke="#3A2A2A" stroke-width="0.7" stroke-opacity="0.25"/>
<text transform="translate(177.60 45.20) scale(0.87 1)" font-size="9.89" fill="#1E1E1E">GSE41177</text>
<line x1="231.50" y1="36.80" x2="231.50" y2="46.50" stroke="#D4D4D4" stroke-width="0.8"/>
<rect x="227.00" y="39.00" width="9.0" height="5.9" fill="#C4A9DC" stroke="#A89EAF" stroke-width="0.5"/>
<line x1="227.00" y1="41.60" x2="236.00" y2="41.60" stroke="#3A2A2A" stroke-width="0.7" stroke-opacity="0.25"/>
<text transform="translate(245.00 45.20) scale(0.87 1)" font-size="9.89" fill="#1E1E1E">GSE79768</text>
<line x1="450.60" y1="35.40" x2="450.60" y2="45.10" stroke="#D4D4D4" stroke-width="0.8"/>
<rect x="446.10" y="37.60" width="9.0" height="5.9" fill="#A7D8EA" stroke="#A0A8AC" stroke-width="0.5"/>
<line x1="446.10" y1="40.20" x2="455.10" y2="40.20" stroke="#3A2A2A" stroke-width="0.7" stroke-opacity="0.25"/>
<text transform="translate(464.10 43.80) scale(0.87 1)" font-size="9.89" fill="#1E1E1E">GSE31821</text>
<line x1="518.10" y1="35.40" x2="518.10" y2="45.10" stroke="#D4D4D4" stroke-width="0.8"/>
<rect x="513.60" y="37.60" width="9.0" height="5.9" fill="#FB5656" stroke="#A89090" stroke-width="0.5"/>
<line x1="513.60" y1="40.20" x2="522.60" y2="40.20" stroke="#3A2A2A" stroke-width="0.7" stroke-opacity="0.25"/>
<text transform="translate(531.70 43.80) scale(0.87 1)" font-size="9.89" fill="#1E1E1E">GSE41177</text>
<line x1="585.60" y1="35.40" x2="585.60" y2="45.10" stroke="#D4D4D4" stroke-width="0.8"/>
<rect x="581.10" y="37.60" width="9.0" height="5.9" fill="#C4A9DC" stroke="#A89EAF" stroke-width="0.5"/>
<line x1="581.10" y1="40.20" x2="590.10" y2="40.20" stroke="#3A2A2A" stroke-width="0.7" stroke-opacity="0.25"/>
<text transform="translate(599.10 43.80) scale(0.87 1)" font-size="9.89" fill="#1E1E1E">GSE79768</text>
<defs><clipPath id="clip39"><rect x="39.5" y="297.9" width="290.2" height="137.60000000000002"/></clipPath></defs>
<g clip-path="url(#clip39)">
<line x1="93.95" y1="297.9" x2="93.95" y2="435.5" stroke="#EBEBEB" stroke-width="0.9"/>
<line x1="177.85" y1="297.9" x2="177.85" y2="435.5" stroke="#EBEBEB" stroke-width="0.9"/>
<line x1="261.75" y1="297.9" x2="261.75" y2="435.5" stroke="#EBEBEB" stroke-width="0.9"/>
<line x1="39.5" y1="405.69" x2="329.7" y2="405.69" stroke="#EBEBEB" stroke-width="0.9"/>
<line x1="39.5" y1="362.51" x2="329.7" y2="362.51" stroke="#EBEBEB" stroke-width="0.9"/>
<line x1="39.5" y1="319.33" x2="329.7" y2="319.33" stroke="#EBEBEB" stroke-width="0.9"/>
<line x1="52.00" y1="297.9" x2="52.00" y2="435.5" stroke="#EBEBEB" stroke-width="1.2"/>
<line x1="135.90" y1="297.9" x2="135.90" y2="435.5" stroke="#EBEBEB" stroke-width="1.2"/>
<line x1="219.80" y1="297.9" x2="219.80" y2="435.5" stroke="#EBEBEB" stroke-width="1.2"/>
<line x1="303.70" y1="297.9" x2="303.70" y2="435.5" stroke="#EBEBEB" stroke-width="1.2"/>
<line x1="39.5" y1="427.28" x2="329.7" y2="427.28" stroke="#EBEBEB" stroke-width="1.2"/>
<line x1="39.5" y1="384.10" x2="329.7" y2="384.10" stroke="#EBEBEB" stroke-width="1.2"/>
<line x1="39.5" y1="340.92" x2="329.7" y2="340.92" stroke="#EBEBEB" stroke-width="1.2"/>
<circle cx="185.30" cy="403.50" r="1.3" fill="#A8D5E6"/>
<circle cx="186.60" cy="405.50" r="1.3" fill="#A8D5E6"/>
<circle cx="185.00" cy="408.00" r="1.3" fill="#A8D5E6"/>
<circle cx="184.60" cy="410.60" r="1.3" fill="#A8D5E6"/>
<circle cx="186.20" cy="412.20" r="1.3" fill="#A8D5E6"/>
<circle cx="185.40" cy="414.80" r="1.3" fill="#A8D5E6"/>
<path d="M135.00 301.02L137.40 305.18L132.60 305.18Z" fill="#F25757"/>
<path d="M55.10 369.52L57.50 373.68L52.70 373.68Z" fill="#F25757"/>
<path d="M52.50 374.62L54.90 378.78L50.10 378.78Z" fill="#F25757"/>
<path d="M143.50 374.72L145.90 378.88L141.10 378.88Z" fill="#F25757"/>
<path d="M144.30 375.92L146.70 380.08L141.90 380.08Z" fill="#F25757"/>
<path d="M141.40 385.42L143.80 389.58L139.00 389.58Z" fill="#F25757"/>
<path d="M167.80 375.02L170.20 379.18L165.40 379.18Z" fill="#F25757"/>
<path d="M167.80 377.72L170.20 381.88L165.40 381.88Z" fill="#F25757"/>
<path d="M185.50 371.12L187.90 375.28L183.10 375.28Z" fill="#F25757"/>
<path d="M181.80 388.12L184.20 392.28L179.40 392.28Z" fill="#F25757"/>
<path d="M173.00 405.62L175.40 409.78L170.60 409.78Z" fill="#F25757"/>
<path d="M225.30 361.02L227.70 365.18L222.90 365.18Z" fill="#F25757"/>
<path d="M224.20 371.72L226.60 375.88L221.80 375.88Z" fill="#F25757"/>
<path d="M255.10 368.82L257.50 372.98L252.70 372.98Z" fill="#F25757"/>
<path d="M240.00 379.62L242.40 383.78L237.60 383.78Z" fill="#F25757"/>
<path d="M246.50 314.82L248.90 318.98L244.10 318.98Z" fill="#F25757"/>
<path d="M245.80 330.32L248.20 334.48L243.40 334.48Z" fill="#F25757"/>
<path d="M245.20 334.12L247.60 338.28L242.80 338.28Z" fill="#F25757"/>
<path d="M244.80 335.42L247.20 339.58L242.40 339.58Z" fill="#F25757"/>
<path d="M244.80 338.52L247.20 342.68L242.40 342.68Z" fill="#F25757"/>
<path d="M245.20 339.42L247.60 343.58L242.80 343.58Z" fill="#F25757"/>
<path d="M242.60 344.82L245.00 348.98L240.20 348.98Z" fill="#F25757"/>
<path d="M246.10 345.62L248.50 349.78L243.70 349.78Z" fill="#F25757"/>
<path d="M244.30 350.12L246.70 354.28L241.90 354.28Z" fill="#F25757"/>
<path d="M240.80 353.32L243.20 357.48L238.40 357.48Z" fill="#F25757"/>
<path d="M241.30 355.12L243.70 359.28L238.90 359.28Z" fill="#F25757"/>
<path d="M238.60 358.62L241.00 362.78L236.20 362.78Z" fill="#F25757"/>
<path d="M244.80 358.22L247.20 362.38L242.40 362.38Z" fill="#F25757"/>
<path d="M242.10 359.52L244.50 363.68L239.70 363.68Z" fill="#F25757"/>
<path d="M242.10 362.12L244.50 366.28L239.70 366.28Z" fill="#F25757"/>
<path d="M244.80 363.22L247.20 367.38L242.40 367.38Z" fill="#F25757"/>
<path d="M241.30 365.22L243.70 369.38L238.90 369.38Z" fill="#F25757"/>
<path d="M241.30 366.92L243.70 371.08L238.90 371.08Z" fill="#F25757"/>
<path d="M242.10 369.12L244.50 373.28L239.70 373.28Z" fill="#F25757"/>
<rect x="230.65" y="414.45" width="3.5" height="3.5" fill="#BFA8D6"/>
<rect x="235.55" y="391.25" width="3.5" height="3.5" fill="#BFA8D6"/>
<rect x="238.03" y="392.67" width="3.5" height="3.5" fill="#BFA8D6"/>
<rect x="235.32" y="394.08" width="3.5" height="3.5" fill="#BFA8D6"/>
<rect x="237.80" y="395.50" width="3.5" height="3.5" fill="#BFA8D6"/>
<rect x="235.08" y="396.92" width="3.5" height="3.5" fill="#BFA8D6"/>
<rect x="237.57" y="398.33" width="3.5" height="3.5" fill="#BFA8D6"/>
<rect x="234.85" y="399.75" width="3.5" height="3.5" fill="#BFA8D6"/>
<rect x="237.33" y="401.17" width="3.5" height="3.5" fill="#BFA8D6"/>
<rect x="234.62" y="402.58" width="3.5" height="3.5" fill="#BFA8D6"/>
<rect x="237.10" y="404.00" width="3.5" height="3.5" fill="#BFA8D6"/>
<rect x="234.38" y="405.42" width="3.5" height="3.5" fill="#BFA8D6"/>
<rect x="236.87" y="406.83" width="3.5" height="3.5" fill="#BFA8D6"/>
<rect x="234.15" y="408.25" width="3.5" height="3.5" fill="#BFA8D6"/>
<rect x="236.63" y="409.67" width="3.5" height="3.5" fill="#BFA8D6"/>
<rect x="233.92" y="411.08" width="3.5" height="3.5" fill="#BFA8D6"/>
<rect x="236.40" y="412.50" width="3.5" height="3.5" fill="#BFA8D6"/>
<rect x="233.68" y="413.92" width="3.5" height="3.5" fill="#BFA8D6"/>
<rect x="236.17" y="415.33" width="3.5" height="3.5" fill="#BFA8D6"/>
<rect x="233.45" y="416.75" width="3.5" height="3.5" fill="#BFA8D6"/>
<rect x="235.93" y="418.17" width="3.5" height="3.5" fill="#BFA8D6"/>
<rect x="233.22" y="419.58" width="3.5" height="3.5" fill="#BFA8D6"/>
<rect x="235.70" y="421.00" width="3.5" height="3.5" fill="#BFA8D6"/>
<rect x="232.98" y="422.42" width="3.5" height="3.5" fill="#BFA8D6"/>
<rect x="235.47" y="423.83" width="3.5" height="3.5" fill="#BFA8D6"/>
<rect x="232.75" y="425.25" width="3.5" height="3.5" fill="#BFA8D6"/>
<ellipse cx="185.70" cy="406.65" rx="3.50" ry="20.20" transform="rotate(2.27 185.70 406.65)" fill="#A8D5E6" fill-opacity="0.2" stroke="#A2D2E6" stroke-width="1.6"/>
<ellipse cx="227.37" cy="363.50" rx="91.90" ry="33.26" transform="rotate(-14.14 227.37 363.50)" fill="#F25757" fill-opacity="0.2" stroke="#F25656" stroke-width="1.7"/>
<ellipse cx="237.20" cy="409.75" rx="3.10" ry="19.40" transform="rotate(4.70 237.20 409.75)" fill="#BFA8D6" fill-opacity="0.2" stroke="#C2A3DC" stroke-width="1.6"/>
<line x1="39.5" y1="384.10" x2="329.7" y2="384.10" stroke="#4A4A4A" stroke-width="1.9" stroke-dasharray="7.6 3.4"/>
<line x1="219.80" y1="435.5" x2="219.80" y2="297.9" stroke="#111" stroke-width="1.7" stroke-dasharray="7.6 3.4"/>
</g>
<rect x="39.5" y="297.9" width="290.20" height="137.60" fill="none" stroke="#1A1A1A" stroke-width="1.1"/>
<line x1="52.00" y1="435.5" x2="52.00" y2="439.50" stroke="#333" stroke-width="1.0"/>
<text transform="translate(52.00 449.20) scale(0.9 1)" font-size="9.56" text-anchor="middle" fill="#1E1E1E">−500</text>
<line x1="135.90" y1="435.5" x2="135.90" y2="439.50" stroke="#333" stroke-width="1.0"/>
<text transform="translate(135.90 449.20) scale(0.9 1)" font-size="9.56" text-anchor="middle" fill="#1E1E1E">−250</text>
<line x1="219.80" y1="435.5" x2="219.80" y2="439.50" stroke="#333" stroke-width="1.0"/>
<text transform="translate(219.80 449.20) scale(0.9 1)" font-size="9.56" text-anchor="middle" fill="#1E1E1E">0</text>
<line x1="303.70" y1="435.5" x2="303.70" y2="439.50" stroke="#333" stroke-width="1.0"/>
<text transform="translate(303.70 449.20) scale(0.9 1)" font-size="9.56" text-anchor="middle" fill="#1E1E1E">250</text>
<line x1="35.50" y1="427.28" x2="39.5" y2="427.28" stroke="#333" stroke-width="1.0"/>
<text transform="translate(32.20 430.38) scale(0.9 1)" font-size="9.56" text-anchor="end" fill="#1E1E1E">−50</text>
<line x1="35.50" y1="384.10" x2="39.5" y2="384.10" stroke="#333" stroke-width="1.0"/>
<text transform="translate(32.20 387.20) scale(0.9 1)" font-size="9.56" text-anchor="end" fill="#1E1E1E">0</text>
<line x1="35.50" y1="340.92" x2="39.5" y2="340.92" stroke="#333" stroke-width="1.0"/>
<text transform="translate(32.20 344.02) scale(0.9 1)" font-size="9.56" text-anchor="end" fill="#1E1E1E">50</text>
<text transform="translate(184.60 462.00) scale(0.87 1)" font-size="9.89" text-anchor="middle" fill="#1E1E1E">PC1 ( 19.95%)</text>
<text transform="translate(11.30 366.70) rotate(-90) scale(0.87 1)" font-size="9.89" text-anchor="middle" fill="#1E1E1E">PC2 ( 5.23%)</text>
<defs><clipPath id="clip393"><rect x="393.6" y="296.5" width="290.0" height="139.7"/></clipPath></defs>
<g clip-path="url(#clip393)">
<line x1="431.62" y1="296.5" x2="431.62" y2="436.2" stroke="#EBEBEB" stroke-width="0.9"/>
<line x1="493.47" y1="296.5" x2="493.47" y2="436.2" stroke="#EBEBEB" stroke-width="0.9"/>
<line x1="555.32" y1="296.5" x2="555.32" y2="436.2" stroke="#EBEBEB" stroke-width="0.9"/>
<line x1="617.17" y1="296.5" x2="617.17" y2="436.2" stroke="#EBEBEB" stroke-width="0.9"/>
<line x1="679.02" y1="296.5" x2="679.02" y2="436.2" stroke="#EBEBEB" stroke-width="0.9"/>
<line x1="393.6" y1="433.18" x2="683.6" y2="433.18" stroke="#EBEBEB" stroke-width="0.9"/>
<line x1="393.6" y1="388.93" x2="683.6" y2="388.93" stroke="#EBEBEB" stroke-width="0.9"/>
<line x1="393.6" y1="344.68" x2="683.6" y2="344.68" stroke="#EBEBEB" stroke-width="0.9"/>
<line x1="393.6" y1="300.43" x2="683.6" y2="300.43" stroke="#EBEBEB" stroke-width="0.9"/>
<line x1="400.70" y1="296.5" x2="400.70" y2="436.2" stroke="#EBEBEB" stroke-width="1.2"/>
<line x1="462.55" y1="296.5" x2="462.55" y2="436.2" stroke="#EBEBEB" stroke-width="1.2"/>
<line x1="524.40" y1="296.5" x2="524.40" y2="436.2" stroke="#EBEBEB" stroke-width="1.2"/>
<line x1="586.25" y1="296.5" x2="586.25" y2="436.2" stroke="#EBEBEB" stroke-width="1.2"/>
<line x1="648.10" y1="296.5" x2="648.10" y2="436.2" stroke="#EBEBEB" stroke-width="1.2"/>
<line x1="393.6" y1="411.05" x2="683.6" y2="411.05" stroke="#EBEBEB" stroke-width="1.2"/>
<line x1="393.6" y1="366.80" x2="683.6" y2="366.80" stroke="#EBEBEB" stroke-width="1.2"/>
<line x1="393.6" y1="322.55" x2="683.6" y2="322.55" stroke="#EBEBEB" stroke-width="1.2"/>
<circle cx="492.90" cy="358.10" r="1.9" fill="#A8D5E6"/>
<circle cx="506.20" cy="360.00" r="1.9" fill="#A8D5E6"/>
<circle cx="521.70" cy="364.30" r="1.9" fill="#A8D5E6"/>
<circle cx="533.40" cy="384.20" r="1.9" fill="#A8D5E6"/>
<circle cx="595.20" cy="376.90" r="1.9" fill="#A8D5E6"/>
<path d="M549.40 343.42L551.80 347.58L547.00 347.58Z" fill="#F25757"/>
<path d="M537.50 348.22L539.90 352.38L535.10 352.38Z" fill="#F25757"/>
<path d="M512.40 350.42L514.80 354.58L510.00 354.58Z" fill="#F25757"/>
<path d="M495.50 349.42L497.90 353.58L493.10 353.58Z" fill="#F25757"/>
<path d="M530.10 354.52L532.50 358.68L527.70 358.68Z" fill="#F25757"/>
<path d="M519.60 355.72L522.00 359.88L517.20 359.88Z" fill="#F25757"/>
<path d="M515.20 356.02L517.60 360.18L512.80 360.18Z" fill="#F25757"/>
<path d="M512.10 358.52L514.50 362.68L509.70 362.68Z" fill="#F25757"/>
<path d="M532.70 358.52L535.10 362.68L530.30 362.68Z" fill="#F25757"/>
<path d="M507.70 360.72L510.10 364.88L505.30 364.88Z" fill="#F25757"/>
<path d="M516.10 358.12L518.50 362.28L513.70 362.28Z" fill="#F25757"/>
<path d="M499.80 362.42L502.20 366.58L497.40 366.58Z" fill="#F25757"/>
<path d="M508.00 361.12L510.40 365.28L505.60 365.28Z" fill="#F25757"/>
<path d="M512.70 363.22L515.10 367.38L510.30 367.38Z" fill="#F25757"/>
<path d="M496.80 366.72L499.20 370.88L494.40 370.88Z" fill="#F25757"/>
<path d="M507.50 366.72L509.90 370.88L505.10 370.88Z" fill="#F25757"/>
<path d="M511.00 367.52L513.40 371.68L508.60 371.68Z" fill="#F25757"/>
<path d="M518.70 368.42L521.10 372.58L516.30 372.58Z" fill="#F25757"/>
<path d="M519.60 370.12L522.00 374.28L517.20 374.28Z" fill="#F25757"/>
<path d="M517.00 373.52L519.40 377.68L514.60 377.68Z" fill="#F25757"/>
<path d="M527.80 368.42L530.20 372.58L525.40 372.58Z" fill="#F25757"/>
<path d="M529.50 354.62L531.90 358.78L527.10 358.78Z" fill="#F25757"/>
<path d="M529.00 361.12L531.40 365.28L526.60 365.28Z" fill="#F25757"/>
<path d="M520.40 355.52L522.80 359.68L518.00 359.68Z" fill="#F25757"/>
<path d="M539.40 371.02L541.80 375.18L537.00 375.18Z" fill="#F25757"/>
<path d="M534.20 371.82L536.60 375.98L531.80 375.98Z" fill="#F25757"/>
<path d="M537.20 373.52L539.60 377.68L534.80 377.68Z" fill="#F25757"/>
<path d="M530.80 374.82L533.20 378.98L528.40 378.98Z" fill="#F25757"/>
<path d="M548.40 369.72L550.80 373.88L546.00 373.88Z" fill="#F25757"/>
<path d="M522.20 372.32L524.60 376.48L519.80 376.48Z" fill="#F25757"/>
<path d="M575.50 377.82L577.90 381.98L573.10 381.98Z" fill="#F25757"/>
<path d="M552.90 379.52L555.30 383.68L550.50 383.68Z" fill="#F25757"/>
<rect x="474.15" y="300.85" width="3.5" height="3.5" fill="#BFA8D6"/>
<rect x="477.55" y="323.95" width="3.5" height="3.5" fill="#BFA8D6"/>
<rect x="493.85" y="325.35" width="3.5" height="3.5" fill="#BFA8D6"/>
<rect x="509.75" y="341.35" width="3.5" height="3.5" fill="#BFA8D6"/>
<rect x="568.35" y="339.75" width="3.5" height="3.5" fill="#BFA8D6"/>
<rect x="607.35" y="332.25" width="3.5" height="3.5" fill="#BFA8D6"/>
<rect x="668.45" y="318.05" width="3.5" height="3.5" fill="#BFA8D6"/>
<rect x="473.05" y="359.05" width="3.5" height="3.5" fill="#BFA8D6"/>
<rect x="454.95" y="368.05" width="3.5" height="3.5" fill="#BFA8D6"/>
<rect x="482.55" y="364.95" width="3.5" height="3.5" fill="#BFA8D6"/>
<rect x="480.75" y="375.95" width="3.5" height="3.5" fill="#BFA8D6"/>
<rect x="483.45" y="376.35" width="3.5" height="3.5" fill="#BFA8D6"/>
<rect x="478.15" y="377.25" width="3.5" height="3.5" fill="#BFA8D6"/>
<rect x="487.75" y="372.75" width="3.5" height="3.5" fill="#BFA8D6"/>
<rect x="513.55" y="349.85" width="3.5" height="3.5" fill="#BFA8D6"/>
<rect x="508.85" y="388.55" width="3.5" height="3.5" fill="#BFA8D6"/>
<rect x="514.55" y="397.05" width="3.5" height="3.5" fill="#BFA8D6"/>
<rect x="525.05" y="397.05" width="3.5" height="3.5" fill="#BFA8D6"/>
<rect x="534.25" y="410.45" width="3.5" height="3.5" fill="#BFA8D6"/>
<rect x="505.35" y="380.25" width="3.5" height="3.5" fill="#BFA8D6"/>
<rect x="548.85" y="359.75" width="3.5" height="3.5" fill="#BFA8D6"/>
<rect x="531.15" y="367.55" width="3.5" height="3.5" fill="#BFA8D6"/>
<rect x="528.55" y="371.85" width="3.5" height="3.5" fill="#BFA8D6"/>
<rect x="576.95" y="411.75" width="3.5" height="3.5" fill="#BFA8D6"/>
<rect x="601.55" y="370.55" width="3.5" height="3.5" fill="#BFA8D6"/>
<rect x="618.35" y="367.55" width="3.5" height="3.5" fill="#BFA8D6"/>
<ellipse cx="512.70" cy="362.90" rx="94.40" ry="14.40" transform="rotate(12.53 512.70 362.90)" fill="#A8D5E6" fill-opacity="0.2" stroke="#A2D2E6" stroke-width="1.7"/>
<ellipse cx="520.90" cy="368.80" rx="34.80" ry="16.60" transform="rotate(13.24 520.90 368.80)" fill="#F25757" fill-opacity="0.2" stroke="#F25656" stroke-width="1.6"/>
<ellipse cx="518.30" cy="368.30" rx="111.70" ry="61.00" transform="rotate(-0.80 518.30 368.30)" fill="#BFA8D6" fill-opacity="0.2" stroke="#C4A5DD" stroke-width="1.7"/>
<line x1="393.6" y1="366.80" x2="683.6" y2="366.80" stroke="#4A4A4A" stroke-width="1.9" stroke-dasharray="7.6 3.4"/>
<line x1="524.40" y1="436.2" x2="524.40" y2="296.5" stroke="#111" stroke-width="1.7" stroke-dasharray="7.6 3.4"/>
</g>
<rect x="393.6" y="296.5" width="290.00" height="139.70" fill="none" stroke="#1A1A1A" stroke-width="1.1"/>
<line x1="400.70" y1="436.2" x2="400.70" y2="440.20" stroke="#333" stroke-width="1.0"/>
<text transform="translate(400.70 449.90) scale(0.9 1)" font-size="9.56" text-anchor="middle" fill="#1E1E1E">−200</text>
<line x1="462.55" y1="436.2" x2="462.55" y2="440.20" stroke="#333" stroke-width="1.0"/>
<text transform="translate(462.55 449.90) scale(0.9 1)" font-size="9.56" text-anchor="middle" fill="#1E1E1E">−100</text>
<line x1="524.40" y1="436.2" x2="524.40" y2="440.20" stroke="#333" stroke-width="1.0"/>
<text transform="translate(524.40 449.90) scale(0.9 1)" font-size="9.56" text-anchor="middle" fill="#1E1E1E">0</text>
<line x1="586.25" y1="436.2" x2="586.25" y2="440.20" stroke="#333" stroke-width="1.0"/>
<text transform="translate(586.25 449.90) scale(0.9 1)" font-size="9.56" text-anchor="middle" fill="#1E1E1E">100</text>
<line x1="648.10" y1="436.2" x2="648.10" y2="440.20" stroke="#333" stroke-width="1.0"/>
<text transform="translate(648.10 449.90) scale(0.9 1)" font-size="9.56" text-anchor="middle" fill="#1E1E1E">200</text>
<line x1="389.60" y1="411.05" x2="393.6" y2="411.05" stroke="#333" stroke-width="1.0"/>
<text transform="translate(386.30 414.15) scale(0.9 1)" font-size="9.56" text-anchor="end" fill="#1E1E1E">−100</text>
<line x1="389.60" y1="366.80" x2="393.6" y2="366.80" stroke="#333" stroke-width="1.0"/>
<text transform="translate(386.30 369.90) scale(0.9 1)" font-size="9.56" text-anchor="end" fill="#1E1E1E">0</text>
<line x1="389.60" y1="322.55" x2="393.6" y2="322.55" stroke="#333" stroke-width="1.0"/>
<text transform="translate(386.30 325.65) scale(0.9 1)" font-size="9.56" text-anchor="end" fill="#1E1E1E">100</text>
<text transform="translate(538.10 462.00) scale(0.87 1)" font-size="9.89" text-anchor="middle" fill="#1E1E1E">PC1 ( 5.8%)</text>
<text transform="translate(361.40 366.35) rotate(-90) scale(0.87 1)" font-size="9.89" text-anchor="middle" fill="#1E1E1E">PC2 ( 4.16%)</text>
<circle cx="97.40" cy="285.50" r="1.6" fill="#A8D5E6"/>
<text transform="translate(108.90 289.00) scale(0.87 1)" font-size="9.89" fill="#1E1E1E">GSE31821</text>
<path d="M163.20 282.92L165.60 287.08L160.80 287.08Z" fill="#F25757"/>
<text transform="translate(174.50 289.00) scale(0.87 1)" font-size="9.89" fill="#1E1E1E">GSE41177</text>
<rect x="226.70" y="283.90" width="3.2" height="3.2" fill="#BFA8D6"/>
<text transform="translate(240.00 289.00) scale(0.87 1)" font-size="9.89" fill="#1E1E1E">GSE79768</text>
<circle cx="450.20" cy="283.90" r="1.6" fill="#A8D5E6"/>
<text transform="translate(461.70 287.40) scale(0.87 1)" font-size="9.89" fill="#1E1E1E">GSE31821</text>
<path d="M516.80 281.32L519.20 285.48L514.40 285.48Z" fill="#F25757"/>
<text transform="translate(528.10 287.40) scale(0.87 1)" font-size="9.89" fill="#1E1E1E">GSE41177</text>
<rect x="581.60" y="282.30" width="3.2" height="3.2" fill="#BFA8D6"/>
<text transform="translate(594.90 287.40) scale(0.87 1)" font-size="9.89" fill="#1E1E1E">GSE79768</text>
</g>
</svg>
</body></html>
